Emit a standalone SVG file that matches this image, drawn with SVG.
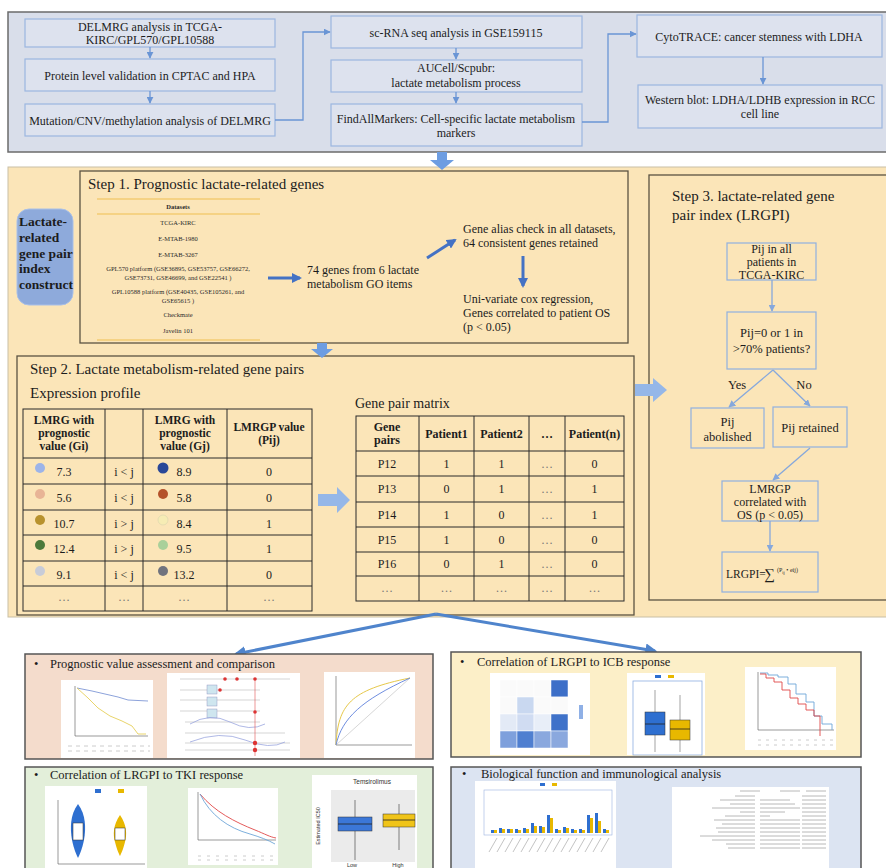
<svg xmlns="http://www.w3.org/2000/svg" width="886" height="868" viewBox="0 0 886 868">
<defs>
<style>
.t{font-family:"Liberation Serif","Times New Roman",serif;fill:#1c1c1c}
.m{text-anchor:middle}
.b{font-weight:bold}
.f12{font-size:12px}
.f13{font-size:13.5px}
.f125{font-size:12.5px}
.f15{font-size:15px}
.tb{fill:#dde2ee;stroke:#9bb6e0;stroke-width:1.2}
.sb{fill:none;stroke:#5b5343;stroke-width:1.3}
.s3{fill:#fbe5b8;stroke:#8fb0df;stroke-width:1.2}
.tl{stroke:#2b2b2b;stroke-width:1;fill:none}
.thin{stroke:#6a95d5;stroke-width:1.3;fill:none}
.dk{stroke:#4472c4;stroke-width:3;fill:none}
.s3c{stroke:#86a8dc;stroke-width:1.3;fill:none}
.big{stroke:#4f84cc;stroke-width:3;fill:none}
.blk{fill:#6d9de2}
.blk2{fill:#95b7e8}
.ds{font-family:"Liberation Serif","Times New Roman",serif;font-size:6.5px;fill:#2a2a2a;text-anchor:middle}
.dot{font-family:"Liberation Serif",serif;font-size:12px;fill:#777;text-anchor:middle}
.pl{fill:#ffffff;stroke:none}
.ax{stroke:#555;stroke-width:0.6;fill:none}
.pt{font-family:"Liberation Serif","Times New Roman",serif;font-size:12.5px;fill:#1c1c1c}
.sm{font-family:"Liberation Sans",Arial,sans-serif;fill:#333}
</style>
<marker id="ahThin" viewBox="0 0 10 10" refX="9" refY="5" markerWidth="7" markerHeight="7" markerUnits="userSpaceOnUse" orient="auto"><path d="M0,0 L10,5 L0,10 Z" fill="#6a95d5"/></marker>
<marker id="ahDk" viewBox="0 0 10 10" refX="8" refY="5" markerWidth="10" markerHeight="10" markerUnits="userSpaceOnUse" orient="auto"><path d="M0,0 L10,5 L0,10 Z" fill="#4472c4"/></marker>
<marker id="ahS3" viewBox="0 0 10 10" refX="9" refY="5" markerWidth="7" markerHeight="7" markerUnits="userSpaceOnUse" orient="auto"><path d="M0,0 L10,5 L0,10 Z" fill="#86a8dc"/></marker>
<marker id="ahBig" viewBox="0 0 10 10" refX="8" refY="5" markerWidth="12" markerHeight="12" markerUnits="userSpaceOnUse" orient="auto"><path d="M0,0 L10,5 L0,10 Z" fill="#4f84cc"/></marker>
</defs>
<rect width="886" height="868" fill="#ffffff"/>

<!-- TOP PANEL -->
<g id="top-panel">
<rect x="8" y="12" width="890" height="140" fill="#d9deea" stroke="#6b6b6b" stroke-width="1.5"/>
</g>
<g id="a1"><rect class="tb" x="25" y="19" width="250" height="28"/>
<text class="t f12 m" x="150" y="31">DELMRG analysis in TCGA-</text>
<text class="t f12 m" x="150" y="43.5">KIRC/GPL570/GPL10588</text></g>
<g id="a2"><rect class="tb" x="25" y="59" width="250" height="32"/>
<text class="t f12 m" x="150" y="79.5">Protein level validation in CPTAC and HPA</text></g>
<g id="a3"><rect class="tb" x="25" y="104" width="250" height="32"/>
<text class="t f12 m" x="150" y="124.5">Mutation/CNV/methylation analysis of DELMRG</text></g>
<g id="b1"><rect class="tb" x="331" y="16" width="251" height="32"/>
<text class="t f12 m" x="456" y="36.5">sc-RNA seq analysis in GSE159115</text></g>
<g id="b2"><rect class="tb" x="331" y="60" width="251" height="32"/>
<text class="t f12 m" x="456" y="72">AUCell/Scpubr:</text>
<text class="t f12 m" x="456" y="86.5">lactate metabolism process</text></g>
<g id="b3"><rect class="tb" x="331" y="104" width="251" height="42"/>
<text class="t f12 m" x="456" y="122.5">FindAllMarkers: Cell-specific lactate metabolism</text>
<text class="t f12 m" x="456" y="137">markers</text></g>
<g id="c1"><rect class="tb" x="637" y="15" width="245" height="42"/>
<text class="t f12 m" x="759" y="40.5">CytoTRACE: cancer stemness with LDHA</text></g>
<g id="c2"><rect class="tb" x="638" y="85" width="244" height="43"/>
<text class="t f12 m" x="760" y="104">Western blot: LDHA/LDHB expression in RCC</text>
<text class="t f12 m" x="760" y="118">cell line</text></g>

<!-- MIDDLE PANEL -->
<g id="middle-panel">
<rect x="8" y="167" width="890" height="450" fill="#fbe5b8" stroke="#c9bfa5" stroke-width="1"/>
</g>
<g id="lactate-label">
<rect x="17" y="209" width="56" height="96" rx="12" fill="#8eaadb" stroke="#a9c0e8" stroke-width="1"/>
<text class="t b f13" x="19" y="226">Lactate-</text>
<text class="t b f13" x="19" y="242">related</text>
<text class="t b f13" x="19" y="257.5">gene pair</text>
<text class="t b f13" x="19" y="273">index</text>
<text class="t b f13" x="19" y="289">construct</text>
</g>

<g id="step1">
<rect class="sb" x="80" y="171" width="548" height="172"/>
<text class="t f15" x="88" y="189">Step 1. Prognostic lactate-related genes</text>
<g id="datasets-table">
<line x1="97" y1="199" x2="260" y2="199" stroke="#f0c050" stroke-width="1.2"/>
<line x1="97" y1="214" x2="260" y2="214" stroke="#f0c050" stroke-width="1.2"/>
<line x1="97" y1="340" x2="260" y2="340" stroke="#f0c050" stroke-width="1.2"/>
<text class="ds" x="178" y="209" font-weight="bold">Datasets</text>
<text class="ds" x="178" y="225">TCGA-KIRC</text>
<text class="ds" x="178" y="241">E-MTAB-1980</text>
<text class="ds" x="178" y="257">E-MTAB-3267</text>
<text class="ds" x="178" y="271">GPL570 platform (GSE36895, GSE53757, GSE66272,</text>
<text class="ds" x="178" y="279.5">GSE73731, GSE46699, and GSE22541 )</text>
<text class="ds" x="178" y="294">GPL10588 platform (GSE40435, GSE105261, and</text>
<text class="ds" x="178" y="302.5">GSE65615 )</text>
<text class="ds" x="178" y="317">Checkmate</text>
<text class="ds" x="178" y="333">Javelin 101</text>
</g>
<text class="t f12" x="307" y="274">74 genes from 6 lactate</text>
<text class="t f12" x="307" y="288">metabolism GO items</text>
<text class="t f12" x="463" y="233">Gene alias check in all datasets,</text>
<text class="t f12" x="463" y="246.5">64 consistent genes retained</text>
<text class="t f12" x="463" y="303">Uni-variate cox regression,</text>
<text class="t f12" x="463" y="317">Genes correlated to patient OS</text>
<text class="t f12" x="463" y="331">(p &lt; 0.05)</text>
</g>

<g id="step2">
<rect class="sb" x="17" y="356" width="617" height="259"/>
<text class="t f15" x="30" y="374">Step 2. Lactate metabolism-related gene pairs</text>
<text class="t f15" x="30" y="398">Expression profile</text>
<g id="expression-table">
<rect class="tl" x="23" y="409" width="289" height="202"/>
<path class="tl" d="M105,409V611M143,409V611M227,409V611M23,458H312M23,484H312M23,510H312M23,535H312M23,561H312M23,586H312"/>
<g class="t b" font-size="11.5" text-anchor="middle">
<text x="64" y="424">LMRG with</text><text x="64" y="437">prognostic</text><text x="64" y="450">value (Gi)</text>
<text x="185" y="424">LMRG with</text><text x="185" y="437">prognostic</text><text x="185" y="450">value (Gj)</text>
<text x="269" y="431">LMRGP value</text><text x="269" y="444">(Pij)</text>
</g>
<circle cx="40" cy="468" r="5" fill="#9db4e8"/><circle cx="163" cy="468" r="5.5" fill="#2a4898"/>
<circle cx="40" cy="494" r="5" fill="#e8b496"/><circle cx="163" cy="494" r="5" fill="#b4522a"/>
<circle cx="40" cy="520" r="5" fill="#b8922e"/><circle cx="163" cy="520" r="5" fill="#f6ecb4" stroke="#e0d8b0" stroke-width="0.8"/>
<circle cx="40" cy="545" r="5" fill="#4c7a3c"/><circle cx="163" cy="545" r="5" fill="#a9d09a"/>
<circle cx="40" cy="571" r="5" fill="#c8ccd8"/><circle cx="163" cy="571" r="5" fill="#70737e"/>
<g class="t f12" text-anchor="middle">
<text x="64" y="476">7.3</text><text x="124" y="476">i &lt; j</text><text x="184" y="476">8.9</text><text x="269" y="476">0</text>
<text x="64" y="502">5.6</text><text x="124" y="502">i &lt; j</text><text x="184" y="502">5.8</text><text x="269" y="502">0</text>
<text x="64" y="528">10.7</text><text x="124" y="528">i &gt; j</text><text x="184" y="528">8.4</text><text x="269" y="528">1</text>
<text x="64" y="553">12.4</text><text x="124" y="553">i &gt; j</text><text x="184" y="553">9.5</text><text x="269" y="553">1</text>
<text x="64" y="579">9.1</text><text x="124" y="579">i &lt; j</text><text x="184" y="579">13.2</text><text x="269" y="579">0</text>
</g>
<text class="dot" x="64" y="601">…</text><text class="dot" x="124" y="601">…</text><text class="dot" x="184" y="601">…</text><text class="dot" x="269" y="601">…</text>
</g>
<text class="t" font-size="14" x="355" y="408">Gene pair matrix</text>
<g id="matrix-table">
<rect class="tl" x="356" y="416" width="268" height="185"/>
<path class="tl" d="M419,416V601M474,416V601M529,416V601M565,416V601M356,451H624M356,476H624M356,502H624M356,527H624M356,552H624M356,576H624"/>
<g class="t b f12" text-anchor="middle">
<text x="387" y="431">Gene</text><text x="387" y="444">pairs</text>
<text x="446.5" y="438">Patient1</text><text x="501.5" y="438">Patient2</text><text x="547" y="438">…</text><text x="594.5" y="438">Patient(n)</text>
</g>
<g class="t f12" text-anchor="middle">
<text x="387" y="468">P12</text><text x="446.5" y="468">1</text><text x="501.5" y="468">1</text><text x="594.5" y="468">0</text>
<text x="387" y="493">P13</text><text x="446.5" y="493">0</text><text x="501.5" y="493">1</text><text x="594.5" y="493">1</text>
<text x="387" y="519">P14</text><text x="446.5" y="519">1</text><text x="501.5" y="519">0</text><text x="594.5" y="519">1</text>
<text x="387" y="544">P15</text><text x="446.5" y="544">1</text><text x="501.5" y="544">0</text><text x="594.5" y="544">0</text>
<text x="387" y="568">P16</text><text x="446.5" y="568">0</text><text x="501.5" y="568">1</text><text x="594.5" y="568">0</text>
</g>
<text class="dot" x="547" y="468">…</text><text class="dot" x="547" y="493">…</text><text class="dot" x="547" y="519">…</text><text class="dot" x="547" y="544">…</text><text class="dot" x="547" y="568">…</text>
<text class="dot" x="387" y="592">…</text><text class="dot" x="446.5" y="592">…</text><text class="dot" x="501.5" y="592">…</text><text class="dot" x="547" y="592">…</text><text class="dot" x="594.5" y="592">…</text>
</g>
</g>

<g id="step3">
<rect class="sb" x="649" y="175" width="250" height="425"/>
<text class="t f15" x="672" y="201">Step 3. lactate-related gene</text>
<text class="t f15" x="672" y="220">pair index (LRGPI)</text>
</g>
<g id="s3a"><rect class="s3" x="727" y="243" width="89" height="37"/>
<text class="t f12 m" x="771.5" y="253">Pij in all</text><text class="t f12 m" x="771.5" y="266">patients in</text><text class="t f12 m" x="771.5" y="279">TCGA-KIRC</text></g>
<g id="s3b"><rect class="s3" x="727" y="312" width="89" height="57"/>
<text class="t f125 m" x="771.5" y="337">Pij=0 or 1 in</text><text class="t f125 m" x="771.5" y="353">&gt;70% patients?</text></g>
<g id="s3c"><rect class="s3" x="691" y="408" width="73" height="40"/>
<text class="t f125 m" x="727.5" y="426">Pij</text><text class="t f125 m" x="727.5" y="441">abolished</text></g>
<g id="s3d"><rect class="s3" x="773" y="407" width="74" height="40"/>
<text class="t f125 m" x="810" y="432">Pij retained</text></g>
<g id="s3e"><rect class="s3" x="722" y="481" width="96" height="40"/>
<text class="t f12 m" x="770" y="493">LMRGP</text><text class="t f12 m" x="770" y="506">correlated with</text><text class="t f12 m" x="770" y="519">OS (p &lt; 0.05)</text></g>
<g id="s3f"><rect class="s3" x="722" y="552" width="96" height="40"/>
<text class="t" font-size="11.5" x="726" y="578">LRGPI=</text>
<text class="t" font-size="15" x="764" y="579">∑</text>
<text class="t" font-size="6" x="777" y="572">(P<tspan font-size="4.5" dy="1.5">ij</tspan><tspan dy="-1.5"> • eij)</tspan></text></g>

<!-- CONNECTORS -->
<g id="connectors">
<line class="thin" x1="150" y1="47" x2="150" y2="58" marker-end="url(#ahThin)"/>
<line class="thin" x1="150" y1="91" x2="150" y2="103" marker-end="url(#ahThin)"/>
<line class="thin" x1="456" y1="48" x2="456" y2="59" marker-end="url(#ahThin)"/>
<line class="thin" x1="456" y1="92" x2="456" y2="103" marker-end="url(#ahThin)"/>
<line class="thin" x1="763" y1="57" x2="763" y2="84" marker-end="url(#ahThin)"/>
<path class="thin" d="M275,120H303V32H330" marker-end="url(#ahThin)"/>
<path class="thin" d="M582,122H608V34H636" marker-end="url(#ahThin)"/>
<path class="blk" d="M437,152H447V160H454L442,170L430,160H437Z"/>
<path class="blk" d="M317,343H327V349H333L322,358L311,349H317Z"/>
<line class="dk" x1="268" y1="278" x2="300" y2="278" marker-end="url(#ahDk)"/>
<line class="dk" x1="427" y1="258" x2="455" y2="240" marker-end="url(#ahDk)"/>
<line class="dk" x1="523" y1="256" x2="523" y2="286" marker-end="url(#ahDk)"/>
<path class="blk2" d="M318,494H337V487L350,500L337,513V506H318Z"/>
<path class="blk2" d="M635,384H653V378L667,390L653,402V396H635Z"/>
<line class="s3c" x1="772" y1="280" x2="772" y2="311" marker-end="url(#ahS3)"/>
<line class="s3c" x1="773" y1="370" x2="729" y2="407" marker-end="url(#ahS3)"/>
<line class="s3c" x1="773" y1="370" x2="810" y2="406" marker-end="url(#ahS3)"/>
<line class="s3c" x1="810" y1="448" x2="773" y2="480" marker-end="url(#ahS3)"/>
<line class="s3c" x1="770" y1="521" x2="770" y2="551" marker-end="url(#ahS3)"/>
<text class="t f125 m" x="737" y="389">Yes</text>
<text class="t f125 m" x="804" y="389">No</text>
<line class="big" x1="436" y1="614" x2="236" y2="654" marker-end="url(#ahBig)"/>
<line class="big" x1="436" y1="614" x2="655" y2="651" marker-end="url(#ahBig)"/>
</g>

<!-- BOTTOM PANELS -->
<g id="panel-prognostic">
<rect x="25" y="654" width="408" height="105" fill="#f4dccc" stroke="#555" stroke-width="1.5"/>
<text class="pt" x="34" y="668">•</text>
<text class="pt" x="50" y="668">Prognostic value assessment and comparison</text>
<rect class="pl" x="61" y="680" width="92" height="78"/>
<path class="ax" d="M75,686V736H148"/>
<path d="M77,688L92,691L105,694L118,697L128,700L148,701" stroke="#7f97d6" stroke-width="0.9" fill="none"/>
<path d="M77,688L88,698L98,708L110,716L122,721L132,726L138,734L146,734" stroke="#e6cf5a" stroke-width="0.9" fill="none"/>
<path d="M68,746H150M68,751H150" stroke="#ccc" stroke-width="1" stroke-dasharray="4 4"/>
<rect class="pl" x="167" y="673" width="133" height="85"/>
<path d="M180,679H290M180,690H260M180,700H260M180,711H260M185,722H260M185,733H285M185,743H290M185,750H290" stroke="#bbb" stroke-width="0.6"/>
<rect x="207" y="685" width="10" height="9" fill="#cfe6ef" stroke="#88b" stroke-width="0.4"/>
<rect x="207" y="697" width="10" height="9" fill="#cfe6ef" stroke="#88b" stroke-width="0.4"/>
<rect x="207" y="709" width="10" height="9" fill="#cfe6ef" stroke="#88b" stroke-width="0.4"/>
<path d="M190,724Q210,712 230,722T265,724M190,742Q220,730 245,740T285,742" stroke="#9aa6de" stroke-width="0.8" fill="none"/>
<path d="M255,679V756" stroke="#e05050" stroke-width="0.6"/>
<circle cx="225" cy="679" r="1.8" fill="#d33"/><circle cx="237" cy="679" r="1.8" fill="#d33"/><circle cx="255" cy="679" r="1.8" fill="#d33"/>
<circle cx="220" cy="690" r="1.8" fill="#d33"/><circle cx="255" cy="712" r="1.8" fill="#d33"/><circle cx="255" cy="743" r="2.2" fill="#d33"/><circle cx="255" cy="750" r="2.2" fill="#d33"/>
<rect class="pl" x="324" y="672" width="91" height="86"/>
<path class="ax" d="M336,676V745H412"/>
<line x1="336" y1="745" x2="410" y2="678" stroke="#bbb" stroke-width="0.6"/>
<path d="M336,745C338,705 350,690 410,678" stroke="#e6c84a" stroke-width="1" fill="none"/>
<path d="M336,745C342,718 362,700 410,678" stroke="#6f8ee0" stroke-width="1" fill="none"/>
</g>

<g id="panel-icb">
<rect x="451" y="652" width="410" height="105" fill="#fcefc8" stroke="#555" stroke-width="1.5"/>
<text class="pt" x="460" y="666">•</text>
<text class="pt" x="477" y="666">Correlation of LRGPI to ICB response</text>
<rect class="pl" x="490" y="673" width="100" height="82"/>
<g stroke="#fff" stroke-width="0.5">
<rect x="500" y="680" width="17" height="17" fill="#fafafa"/><rect x="517" y="680" width="17" height="17" fill="#fafafa"/><rect x="534" y="680" width="17" height="17" fill="#fafafa"/><rect x="551" y="680" width="17" height="17" fill="#3d6fc8"/>
<rect x="500" y="697" width="17" height="17" fill="#fafafa"/><rect x="517" y="697" width="17" height="17" fill="#c9d8f0"/><rect x="534" y="697" width="17" height="17" fill="#fafafa"/><rect x="551" y="697" width="17" height="17" fill="#fafafa"/>
<rect x="500" y="714" width="17" height="17" fill="#e3eaf6"/><rect x="517" y="714" width="17" height="17" fill="#d0dcf2"/><rect x="534" y="714" width="17" height="17" fill="#e8eef8"/><rect x="551" y="714" width="17" height="17" fill="#3f72c9"/>
<rect x="500" y="731" width="17" height="17" fill="#7ea0dc"/><rect x="517" y="731" width="17" height="17" fill="#4f7fd0"/><rect x="534" y="731" width="17" height="17" fill="#8aa8de"/><rect x="551" y="731" width="17" height="17" fill="#8aa8de"/>
</g>
<rect x="579" y="705" width="4" height="14" fill="#8fb0e6"/>
<rect class="pl" x="627" y="673" width="78" height="82"/>
<rect x="633" y="681" width="69" height="74" fill="none" stroke="#8eaee0" stroke-width="0.8"/>
<rect x="655" y="675" width="6" height="3" fill="#2e6fd0"/><rect x="668" y="675" width="6" height="3" fill="#e8b800"/>
<path d="M655,690V712M655,735V752M680,695V720M680,740V752" stroke="#666" stroke-width="0.6"/>
<rect x="645" y="712" width="20" height="23" fill="#2e6fd0" stroke="#333" stroke-width="0.5"/>
<line x1="645" y1="724" x2="665" y2="724" stroke="#222" stroke-width="0.8"/>
<rect x="670" y="720" width="20" height="20" fill="#e8b800" stroke="#333" stroke-width="0.5"/>
<line x1="670" y1="729" x2="690" y2="729" stroke="#222" stroke-width="0.8"/>
<rect class="pl" x="745" y="667" width="91" height="83"/>
<path class="ax" d="M758,672V730H834"/>
<path d="M760,673H768V675H778V677H788V684H796V694H806V702H814V716H822V724H832V730" stroke="#6ea6d8" stroke-width="0.9" fill="none"/>
<path d="M760,674H766V678H774V682H782V690H790V698H798V704H806V710H814V716H820V736" stroke="#e04848" stroke-width="0.9" fill="none"/>
<path d="M758,740H834M758,745H834" stroke="#ccc" stroke-width="1" stroke-dasharray="3 5"/>
</g>

<g id="panel-tki">
<rect x="25" y="767" width="408" height="110" fill="#e3efda" stroke="#555" stroke-width="1.5"/>
<text class="pt" x="34" y="779">•</text>
<text class="pt" x="50" y="779">Correlation of LRGPI to TKI response</text>
<rect class="pl" x="45" y="786" width="102" height="82"/>
<rect x="95" y="789" width="6" height="4" fill="#2e6fd0"/><rect x="118" y="789" width="6" height="4" fill="#e8b800"/>
<path class="ax" d="M58,800V864H145"/>
<path d="M78,804C70,815 70,828 72,840C74,850 77,856 78,858C79,856 82,850 84,840C86,828 86,815 78,804Z" fill="#2e6fd0"/>
<rect x="73" y="823" width="10" height="17" fill="#fff" stroke="#333" stroke-width="0.5"/>
<path d="M120,815C113,825 113,835 115,842C117,850 119,854 120,856C121,854 123,850 125,842C127,835 127,825 120,815Z" fill="#e8b800"/>
<rect x="115" y="828" width="10" height="12" fill="#fff" stroke="#333" stroke-width="0.5"/>
<rect class="pl" x="188" y="788" width="90" height="77"/>
<path class="ax" d="M198,792V840H276"/>
<path d="M200,794C215,812 235,822 255,830C265,834 270,837 276,838" stroke="#e04848" stroke-width="0.9" fill="none"/>
<path d="M200,794C210,815 228,828 250,834C260,837 268,840 275,844" stroke="#6ea6d8" stroke-width="0.9" fill="none"/>
<path d="M198,856H276M198,860H276" stroke="#ccc" stroke-width="1" stroke-dasharray="3 6"/>
<rect class="pl" x="312" y="775" width="105" height="93"/>
<rect x="331" y="790" width="84" height="72" fill="#ebebeb"/>
<text class="sm" font-size="6.5" x="372" y="784" text-anchor="middle">Temsirolimus</text>
<text class="sm" font-size="5.5" x="320" y="826" text-anchor="middle" transform="rotate(-90 320 826)">Estimated IC50</text>
<path d="M355,800V817M355,831V860M399,804V814M399,827V850" stroke="#333" stroke-width="0.6"/>
<rect x="338" y="817" width="34" height="14" fill="#3b77d8" stroke="#333" stroke-width="0.5"/>
<line x1="338" y1="824" x2="372" y2="824" stroke="#222" stroke-width="0.8"/>
<rect x="383" y="814" width="32" height="13" fill="#f0c419" stroke="#333" stroke-width="0.5"/>
<line x1="383" y1="820" x2="415" y2="820" stroke="#222" stroke-width="0.8"/>
<text class="sm" font-size="5.5" x="352" y="867" text-anchor="middle">Low</text>
<text class="sm" font-size="5.5" x="398" y="867" text-anchor="middle">High</text>
</g>

<g id="panel-bio">
<rect x="451" y="767" width="410" height="110" fill="#dce4f2" stroke="#555" stroke-width="1.5"/>
<text class="pt" x="462" y="778">•</text>
<text class="pt" x="481" y="778">Biological function and immunological analysis</text>
<rect class="pl" x="475" y="781" width="141" height="87"/>
<rect x="484" y="790" width="128" height="45" fill="none" stroke="#9bb3e0" stroke-width="0.6"/>
<rect x="540" y="783" width="5" height="3" fill="#2e6fd0"/><rect x="552" y="783" width="5" height="3" fill="#e8b800"/>
<g fill="#2e6fd0">
<rect x="491" y="830" width="3" height="3"/><rect x="499" y="828" width="3" height="5"/><rect x="507" y="829" width="3" height="4"/><rect x="515" y="829" width="3" height="4"/><rect x="523" y="828" width="3" height="5"/>
<rect x="531" y="823" width="3" height="10"/><rect x="539" y="826" width="3" height="7"/><rect x="547" y="815" width="3" height="18"/><rect x="555" y="829" width="3" height="4"/><rect x="563" y="827" width="3" height="6"/>
<rect x="571" y="829" width="3" height="4"/><rect x="579" y="829" width="3" height="4"/><rect x="587" y="815" width="3" height="18"/><rect x="595" y="813" width="3" height="20"/><rect x="603" y="829" width="3" height="4"/>
</g>
<g fill="#e8b800">
<rect x="494" y="830" width="3" height="3"/><rect x="502" y="829" width="3" height="4"/><rect x="510" y="829" width="3" height="4"/><rect x="518" y="830" width="3" height="3"/><rect x="526" y="829" width="3" height="4"/>
<rect x="534" y="826" width="3" height="7"/><rect x="542" y="827" width="3" height="6"/><rect x="550" y="818" width="3" height="15"/><rect x="558" y="830" width="3" height="3"/><rect x="566" y="828" width="3" height="5"/>
<rect x="574" y="830" width="3" height="3"/><rect x="582" y="830" width="3" height="3"/><rect x="590" y="818" width="3" height="15"/><rect x="598" y="821" width="3" height="12"/><rect x="606" y="830" width="3" height="3"/>
</g>
<path d="M489,852L497,838M497,852L505,838M505,852L513,838M513,852L521,838M521,852L529,838M529,852L537,838M537,852L545,838M545,852L553,838M553,852L561,838M561,852L569,838M569,852L577,838M577,852L585,838M585,852L593,838M593,852L601,838M601,852L609,838" stroke="#aaa" stroke-width="0.7"/>
<rect class="pl" x="672" y="787" width="157" height="81"/>
<g stroke="#b8b8b8" stroke-width="1">
<path d="M740,791H760M780,791H800M806,791H826"/>
<path d="M735,796H755M720,800H755M730,804H755M712,808H755M740,812H755M725,816H755M714,820H755M722,824H755M716,828H755M718,832H755M700,836H755M712,840H755M726,844H755M728,848H755"/>
<path d="M760,800H790M760,804H795M760,808H800M760,812H785M760,816H770M760,820H800M760,824H800M760,828H800M760,832H800M760,836H800M760,840H800M760,844H800M760,848H800"/>
<path d="M802,796H826M802,800H826M802,804H826M802,808H826M802,812H826M802,816H826M802,820H826M802,824H826M802,828H826M802,832H826M802,836H826M802,840H826M802,844H826M802,848H826"/>
</g>
</g>
</svg>
